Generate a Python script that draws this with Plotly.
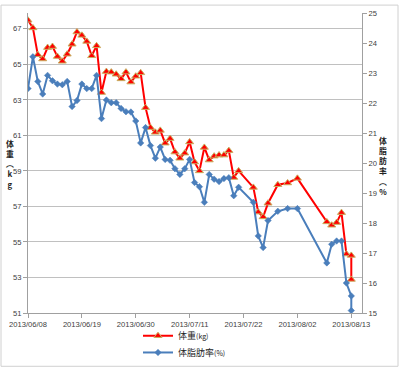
import plotly.graph_objects as go
import pandas as pd

start = pd.Timestamp("2013-06-08")

# day offsets from 2013/06/08
days = [0, 1, 2, 3, 4, 5, 6, 7, 8, 9, 10, 11, 12, 13, 14, 15, 16, 17, 18, 19,
        20, 21, 22, 23, 24, 25, 26, 27, 28, 29, 30, 31, 32, 33, 34, 35, 36, 37,
        38, 39, 40, 41, 42, 43, 46, 47, 48, 49, 51, 53, 55, 61, 62, 63, 64, 65,
        66, 66]

weight = [67.48, 67.05, 65.54, 65.30, 65.94, 66.00, 65.44, 65.17, 65.57, 66.13,
          66.82, 66.63, 66.29, 65.48, 66.04, 63.41, 64.59, 64.56, 64.44, 64.18,
          64.56, 64.00, 64.33, 64.52, 62.56, 61.44, 61.17, 61.28, 60.56, 60.82,
          60.06, 59.71, 60.00, 60.63, 59.50, 59.00, 60.32, 59.61, 59.83, 59.89,
          59.89, 60.14, 58.63, 59.00, 58.07, 56.68, 56.41, 57.18, 58.22, 58.32,
          58.58, 56.13, 55.94, 56.09, 56.65, 54.32, 54.24, 52.89]

bodyfat = [22.48, 23.54, 22.72, 22.30, 22.92, 22.74, 22.63, 22.61, 22.72, 21.88,
           22.08, 22.63, 22.48, 22.48, 22.92, 21.48, 22.10, 22.01, 22.01, 21.82,
           21.71, 21.70, 21.40, 20.67, 21.18, 20.58, 20.16, 20.53, 20.12, 20.09,
           19.81, 19.62, 19.81, 20.12, 19.35, 19.21, 18.69, 19.62, 19.46, 19.38,
           19.48, 19.51, 18.91, 19.19, 18.69, 17.57, 17.18, 18.08, 18.39, 18.48,
           18.48, 16.67, 17.29, 17.40, 17.40, 16.00, 15.57, 15.08]

left_ticks = [51, 53, 55, 57, 59, 61, 63, 65, 67]
right_ticks = [15, 16, 17, 18, 19, 20, 21, 22, 23, 24, 25]

left_title = ["体", "重", "︵", "k", "g"]
right_title = ["体", "脂", "肪", "率", "︵", "%"]

dates = [start + pd.Timedelta(days=d) for d in days]

W, H = 400, 390          # figure a bit taller than the 369px window
PLOT_BOTTOM = 313
ML, MR, MT = 28, 38, 9
MB = H - PLOT_BOTTOM
PW, PH = W - ML - MR, PLOT_BOTTOM - MT

def px_x(p):
    return (p - ML) / PW

def px_y(p):
    return (PLOT_BOTTOM - p) / PH

x_end = start + pd.Timedelta(days=66 * PW / 323.3)

fig = go.Figure()
fig.add_trace(go.Scatter(
    x=dates, y=weight, name="体重<span style='font-size:7px'>(kg)</span>",
    mode="lines+markers",
    line=dict(color="#FF0000", width=2),
    marker=dict(symbol="triangle-up", size=7, color="#FF0000",
                line=dict(color="#C8B060", width=1)),
    yaxis="y", legend="legend"))
fig.add_trace(go.Scatter(
    x=dates, y=bodyfat, name="体脂肪率<span style='font-size:7px'>(%)</span>",
    mode="lines+markers",
    line=dict(color="#4A7EBB", width=2),
    marker=dict(symbol="diamond", size=5, color="#4A7EBB",
                line=dict(color="#4A7EBB", width=0.5)),
    yaxis="y2", legend="legend2"))

tickfont = dict(family="Liberation Sans, Arial", size=7.6, color="#404040")
legfont = dict(family="Noto Sans CJK JP", size=9, color="#222222")

fig.update_layout(
    width=W, height=H,
    margin=dict(l=ML, r=MR, t=MT, b=MB, pad=0),
    paper_bgcolor="white", plot_bgcolor="white",
    showlegend=True,
    legend=dict(x=px_x(138), y=px_y(336), xanchor="left", yanchor="middle",
                font=legfont, bgcolor="rgba(0,0,0,0)", itemwidth=30),
    legend2=dict(x=px_x(138), y=px_y(353), xanchor="left", yanchor="middle",
                 font=legfont, bgcolor="rgba(0,0,0,0)", itemwidth=30),
    xaxis=dict(type="date", range=[start, x_end],
               tick0=start, dtick=11 * 86400000, tickformat="%Y/%m/%d",
               ticks="outside", ticklen=4, tickcolor="#A0A0A0",
               showline=True, linecolor="#A0A0A0", linewidth=1,
               showgrid=False, zeroline=False, tickfont=tickfont),
    yaxis=dict(range=[51, 51 + PH / 18.0], tickvals=left_ticks,
               ticks="outside", ticklen=4, tickcolor="#A0A0A0",
               showline=True, linecolor="#A0A0A0", linewidth=1,
               showgrid=True, gridcolor="#C0C0C0", gridwidth=1,
               zeroline=False, tickfont=tickfont),
    yaxis2=dict(range=[15, 25], tickvals=right_ticks, overlaying="y",
                side="right", ticks="outside", ticklen=4, tickcolor="#A0A0A0",
                showline=True, linecolor="#A0A0A0", linewidth=1,
                showgrid=False, zeroline=False, tickfont=tickfont),
)

fig.add_shape(type="rect", xref="paper", yref="paper",
              x0=px_x(1), x1=px_x(398), y0=px_y(367), y1=px_y(1),
              line=dict(color="#D0D0D0", width=1), fillcolor="rgba(0,0,0,0)",
              layer="below")

titlefont = dict(family="Noto Sans CJK JP", size=7.8, color="#222222")
fig.add_annotation(xref="paper", yref="paper", x=px_x(10), y=px_y(162),
                   text="<br>".join("<b>%s</b>" % c for c in left_title),
                   showarrow=False, font=titlefont,
                   xanchor="center", yanchor="middle", align="center")
fig.add_annotation(xref="paper", yref="paper", x=px_x(383), y=px_y(164),
                   text="<br>".join("<b>%s</b>" % c for c in right_title),
                   showarrow=False, font=titlefont,
                   xanchor="center", yanchor="middle", align="center")

fig.write_html(
    "out.html",
    config={"displayModeBar": False},
    post_script="document.body.style.margin='0';document.body.style.overflow='hidden';",
)
